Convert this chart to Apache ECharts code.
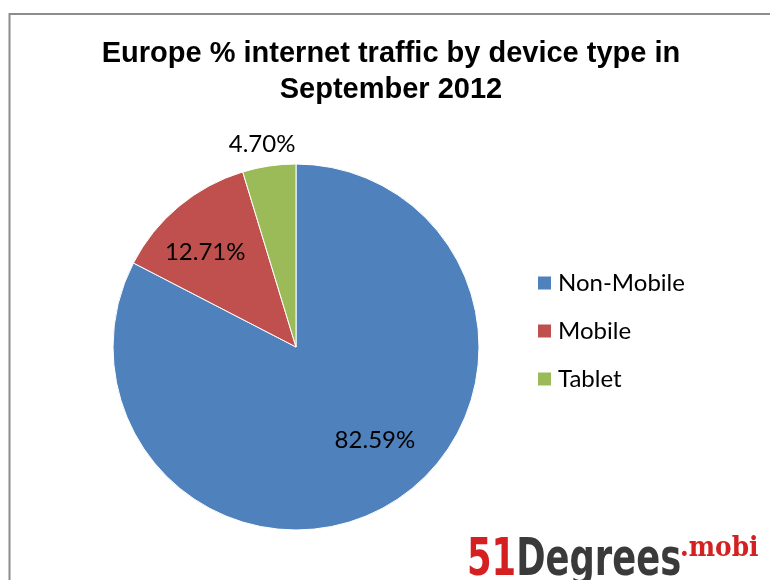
<!DOCTYPE html>
<html><head><meta charset="utf-8">
<script src="https://cdn.jsdelivr.net/npm/echarts@6/dist/echarts.min.js"></script>
<style>html,body{margin:0;padding:0;background:#fff}#c{width:770px;height:580px}</style>
</head><body><div id="c"></div>
<script>
const categories = ['Non-Mobile', 'Mobile', 'Tablet'];
const values = [82.59, 12.71, 4.70];
const colors = ['#4F81BD', '#C0504D', '#9BBB59'];
const titleText = 'Europe % internet traffic by device type in\nSeptember 2012';

const chart = echarts.init(document.getElementById('c'));
const center = [296, 347];
const R = 183;
const labelFont = { fontFamily: 'Lato, "Open Sans", sans-serif', fontSize: 24, color: '#000' };
const labelOffsets = [[10, -20], [-6, 7], [-3, 5]];

const baseData = categories.map((n, i) => ({ name: n, value: values[i], itemStyle: { color: colors[i] } }));
const innerData = categories.map((n, i) => ({ name: n, value: values[i], label: { show: i < 2, offset: labelOffsets[i] } }));
const outerData = categories.map((n, i) => ({ name: n, value: values[i], label: { show: i === 2, offset: labelOffsets[i] } }));

chart.setOption({
  animation: false,
  title: {
    text: titleText, left: 391, top: 36, textAlign: 'center', padding: 0,
    textStyle: { fontFamily: '"Liberation Sans", Arial, sans-serif', fontWeight: 'bold', fontSize: 29, lineHeight: 36, color: '#000' }
  },
  legend: {
    orient: 'vertical', left: 536, top: 271, padding: 0, itemWidth: 15, itemHeight: 15, itemGap: 24,
    icon: 'rect', data: categories,
    textStyle: Object.assign({ lineHeight: 24, padding: [0, 0, 0, 1] }, labelFont)
  },
  graphic: [
    { type: 'rect', shape: { x: 9.5, y: 14, width: 800, height: 600 }, style: { fill: 'none', stroke: '#8c8c8c', lineWidth: 2 }, silent: true },
    { type: 'text', x: 467, y: 587, scaleX: 0.68, silent: true, style: {
        x: 0, y: 0, verticalAlign: 'bottom',
        text: '{r|51}{d|Degrees}',
        rich: {
          r: { fill: '#d42020', font: 'bold 52px "DejaVu Sans", sans-serif' },
          d: { fill: '#3a3a3a', font: 'bold 52px "DejaVu Sans", sans-serif' }
        }
      } },
    { type: 'text', x: 680, y: 563, scaleX: 0.89, silent: true, style: {
        x: 0, y: 0, verticalAlign: 'bottom', text: '.mobi', fill: '#d42020',
        font: 'bold 28px "DejaVu Serif", serif'
      } }
  ],
  series: [
    { type: 'pie', center: center, radius: [0, R], startAngle: 90, clockwise: true, silent: true,
      itemStyle: { borderColor: '#fff', borderWidth: 1 },
      label: { show: false }, labelLine: { show: false }, data: baseData },
    { type: 'pie', center: center, radius: [76, R], startAngle: 90, clockwise: true, silent: true,
      itemStyle: { color: 'rgba(0,0,0,0)' }, labelLine: { show: false },
      label: Object.assign({ position: 'inside', formatter: p => p.value.toFixed(2) + '%' }, labelFont),
      data: innerData },
    { type: 'pie', center: center, radius: [190, 224], startAngle: 90, clockwise: true, silent: true,
      itemStyle: { color: 'rgba(0,0,0,0)' }, labelLine: { show: false },
      label: Object.assign({ position: 'inside', formatter: p => p.value.toFixed(2) + '%' }, labelFont),
      data: outerData }
  ]
});
</script></body></html>
